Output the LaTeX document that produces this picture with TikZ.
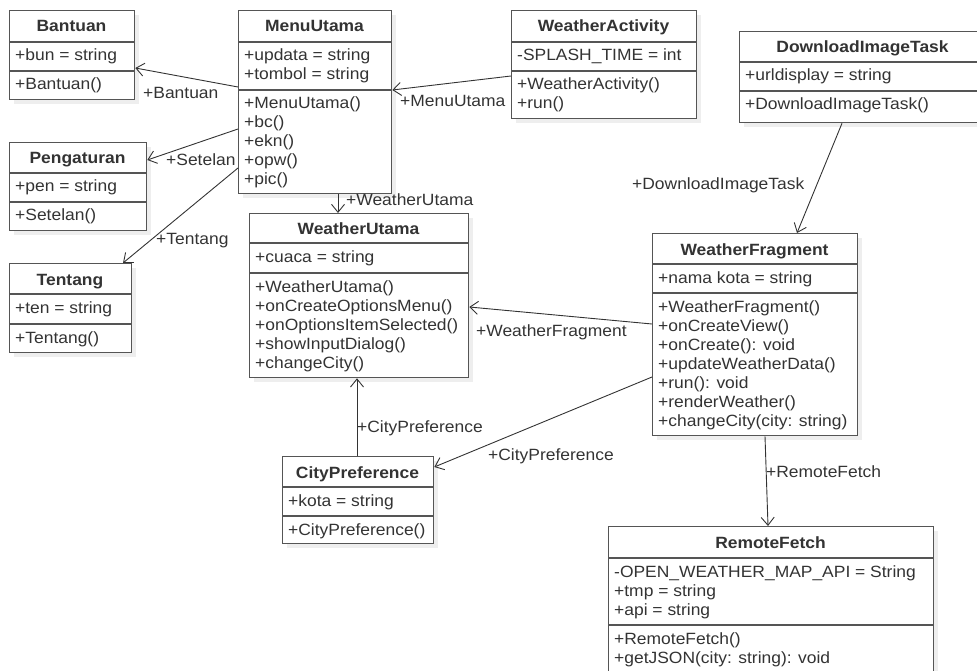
\documentclass[tikz,border=0pt]{standalone}
\usepackage{fontspec}
\setmainfont[FakeStretch=1.07]{Liberation Sans}
\usetikzlibrary{arrows.meta}
\definecolor{txt}{HTML}{333333}
\definecolor{edgec}{HTML}{555555}
\definecolor{shade}{HTML}{EEEEEE}
\newcommand\basefont{\fontsize{16.3}{19}\selectfont}
\tikzset{
  classbox/.style={draw=edgec, line width=1.3pt, fill=white, inner sep=0pt, anchor=north west},
  shadowbox/.style={fill=shade, draw=none},
  ctitle/.style={font=\basefont\bfseries, text=txt, anchor=base, inner sep=0pt},
  cline/.style={font=\basefont, text=txt, anchor=base west, inner sep=0pt},
  divider/.style={draw=edgec, line width=1.3pt},
  assoc/.style={draw=txt, line width=0.9pt, -{Straight Barb[length=8pt,width=13pt,line width=0.9pt]}},
  alabel/.style={font=\basefont, text=txt, anchor=base west, inner sep=0pt},
}
% name, left, top, right, bottom, title
\newcommand\umlclass[6]{%
  \path[shadowbox] (#2+5,#3+5) rectangle (#4+5,#5+5);
  \node[classbox, minimum width=#4-#2, minimum height=#5-#3] (#1) at (#2,#3) {};
  \node[ctitle] (#1-title) at ({(#2+#4)/2},#3+22) {#6};
}
% name, left, right, y of divider, lines
\newcommand\umlpart[5]{%
  \draw[divider] (#2,#4) -- (#3,#4);
  \foreach \t [count=\i from 0] in {#5} {
    \node[cline] (#1-\i) at (#2+6,#4+19+19*\i) {\t};
  }
}
\begin{document}
\begin{tikzpicture}[x=1pt,y=-1pt]
\useasboundingbox (0,0) rectangle (977,671);
\clip (0,0) rectangle (977,671);

\umlclass{bantuan}{9}{10}{134}{99}{Bantuan}
\umlpart{bantuan-a}{9}{134}{42}{{+bun = string}}
\umlpart{bantuan-m}{9}{134}{71}{{+Bantuan()}}

\umlclass{menu}{238}{10}{391}{193}{MenuUtama}
\umlpart{menu-a}{238}{391}{42}{{+updata = string},{+tombol = string}}
\umlpart{menu-m}{238}{391}{90}{{+MenuUtama()},{+bc()},{+ekn()},{+opw()},{+pic()}}

\umlclass{wact}{511}{10}{696}{118}{WeatherActivity}
\umlpart{wact-a}{511}{696}{42}{{-SPLASH\_TIME = int}}
\umlpart{wact-m}{511}{696}{71}{{+WeatherActivity()},{+run()}}

\umlclass{dit}{739}{31}{986}{122}{DownloadImageTask}
\umlpart{dit-a}{739}{986}{62}{{+urldisplay = string}}
\umlpart{dit-m}{739}{986}{91}{{+DownloadImageTask()}}

\umlclass{peng}{9}{142}{146}{230}{Pengaturan}
\umlpart{peng-a}{9}{146}{173}{{+pen = string}}
\umlpart{peng-m}{9}{146}{202}{{+Setelan()}}

\umlclass{tentang}{9}{263}{131}{352}{Tentang}
\umlpart{tentang-a}{9}{131}{294}{{+ten = string}}
\umlpart{tentang-m}{9}{131}{324}{{+Tentang()}}

\umlclass{wu}{249}{213}{468}{377}{WeatherUtama}
\umlpart{wu-a}{249}{468}{243}{{+cuaca = string}}
\umlpart{wu-m}{249}{468}{273}{{+WeatherUtama()},{+onCreateOptionsMenu()},{+onOptionsItemSelected()},{+showInputDialog()},{+changeCity()}}

\umlclass{wf}{652}{233}{857}{435}{WeatherFragment}
\umlpart{wf-a}{652}{857}{264}{{+nama kota = string}}
\umlpart{wf-m}{652}{857}{293}{{+WeatherFragment()},{+onCreateView()},{+onCreate(): void},{+updateWeatherData()},{+run(): void},{+renderWeather()},{+changeCity(city: string)}}

\umlclass{city}{282}{456}{433}{543}{CityPreference}
\umlpart{city-a}{282}{433}{487}{{+kota = string}}
\umlpart{city-m}{282}{433}{516}{{+CityPreference()}}

\umlclass{rf}{608}{526}{933}{690}{RemoteFetch}
\umlpart{rf-a}{608}{933}{558}{{-OPEN\_WEATHER\_MAP\_API = String},{+tmp = string},{+api = string}}
\umlpart{rf-m}{608}{933}{625}{{+RemoteFetch()},{+getJSON(city: string): void}}

% associations
\draw[assoc] (menu.west |- 0,87) -- (bantuan.east |- 0,68);
\draw[assoc] (menu.west |- 0,129) -- (peng.east |- 0,160);
\draw[assoc] (menu.west |- 0,168) -- (tentang.north -| 123,0);
\draw[assoc] (wact.west |- 0,76) -- (menu.east |- 0,90);
\draw[assoc] (menu.south -| 338,0) -- (wu.north -| 338,0);
\draw[assoc] (wf.west |- 0,324) -- (wu.east |- 0,307);
\draw[assoc] (city.north -| 357,0) -- (wu.south -| 357,0);
\draw[assoc] (wf.west |- 0,377) -- (city.east |- 0,467);
\draw[assoc] (dit.south -| 842,0) -- (wf.north -| 797,0);
\draw[assoc] (wf.south -| 765,0) -- (rf.north -| 768,0);

% labels
\node[alabel] (l-bantuan) at (143,99) {+Bantuan};
\node[alabel] (l-setelan) at (166,166) {+Setelan};
\node[alabel] (l-tentang) at (156,244) {+Tentang};
\node[alabel] (l-menu) at (400,107) {+MenuUtama};
\node[alabel] (l-wu) at (346,206) {+WeatherUtama};
\node[alabel] (l-wf) at (476,336) {+WeatherFragment};
\node[alabel] (l-dit) at (632,190) {+DownloadImageTask};
\node[alabel] (l-city1) at (357,432) {+CityPreference};
\node[alabel] (l-city2) at (488,460) {+CityPreference};
\node[alabel] (l-rf) at (766,477) {+RemoteFetch};
\end{tikzpicture}
\end{document}
